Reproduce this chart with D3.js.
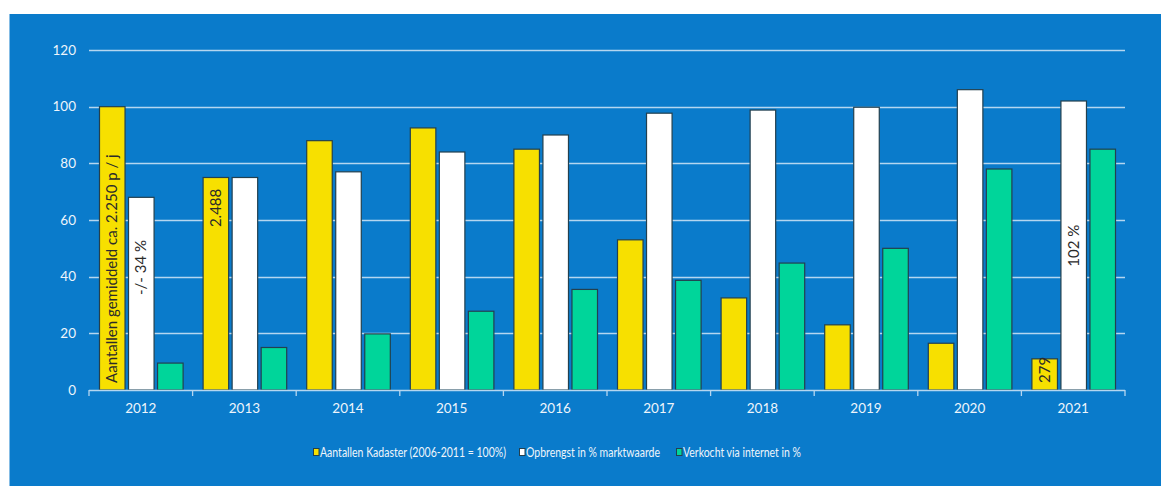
<!DOCTYPE html>
<html>
<head>
<meta charset="utf-8">
<script src="https://cdn.jsdelivr.net/npm/d3@7/dist/d3.min.js"></script>
<style>
  html, body { margin: 0; padding: 0; background: #ffffff; }
  svg { display: block; }
  text { font-family: Lato, "Open Sans", sans-serif; }
</style>
</head>
<body>
<svg id="chart" width="1161" height="486"></svg>
<script>
const years = ["2012","2013","2014","2015","2016","2017","2018","2019","2020","2021"];
const aantallen = [100, 75, 88, 92.5, 85, 53, 32.5, 23, 16.5, 11];
const opbrengst = [68, 75, 77, 84, 90, 97.7, 98.8, 99.8, 106, 102];
const internet  = [9.5, 15, 19.8, 27.8, 35.5, 38.7, 44.8, 50, 78, 85];
const yTicks = [0, 20, 40, 60, 80, 100, 120];
const seriesNames = ["Aantallen Kadaster (2006-2011 = 100%)", "Opbrengst in % marktwaarde", "Verkocht via internet in %"];
const seriesColors = ["#f7e000", "#ffffff", "#00d59a"];
const annotations = [
  { year: "2012", series: 0, text: "Aantallen gemiddeld ca. 2.250 p / j", value: 2.5 },
  { year: "2012", series: 1, text: "-/- 34 %", value: 33.5 },
  { year: "2013", series: 0, text: "2.488", value: 57.5 },
  { year: "2021", series: 1, text: "102 %", value: 43.5 },
  { year: "2021", series: 0, text: "279", value: 2.5 }
];

const svg = d3.select("#chart");
svg.append("rect").attr("x", 9.5).attr("y", 14).attr("width", 1152).attr("height", 472).attr("fill", "#0a7bcb");

const mLeft = 89, mRight = 1125, mTop = 50, mBottom = 390;
const x = d3.scaleBand().domain(years).range([mLeft, mRight]).paddingInner(0).paddingOuter(0);
const inner = d3.scaleBand().domain([0,1,2]).range([10, x.bandwidth() - 10]).paddingInner(0.12).paddingOuter(0);
const y = d3.scaleLinear().domain([0, 120]).range([mBottom, mTop]);

// gridlines
svg.append("g").selectAll("line").data(yTicks.filter(d => d > 0)).join("line")
  .attr("x1", mLeft).attr("x2", mRight)
  .attr("y1", d => Math.round(y(d)) + 0.5).attr("y2", d => Math.round(y(d)) + 0.5)
  .attr("stroke", "#b5d6f0").attr("stroke-width", 1.3);

// y axis labels
const yAxis = d3.axisLeft(y).tickValues(yTicks).tickSize(0).tickPadding(13);
const gy = svg.append("g").attr("transform", `translate(${mLeft},0)`).call(yAxis);
gy.select(".domain").remove();
gy.selectAll("text").attr("fill", "#eef5fb").attr("font-size", 13.5).attr("font-family", "Lato, sans-serif");

// bars
const series = [aantallen, opbrengst, internet];
const groups = svg.append("g").selectAll("g").data(years).join("g")
  .attr("transform", d => `translate(${x(d)},0)`);
groups.selectAll("rect").data((d, i) => series.map((s, k) => ({k, v: s[i]}))).join("rect")
  .attr("x", d => inner(d.k) + 0.5)
  .attr("y", d => y(d.v))
  .attr("width", inner.bandwidth())
  .attr("height", d => y(0) - y(d.v))
  .attr("fill", d => seriesColors[d.k])
  .attr("stroke", "#23404f").attr("stroke-width", 1.2);

// x axis
const xAxisLine = svg.append("g").attr("transform", `translate(0,${mBottom})`);
xAxisLine.append("line").attr("x1", mLeft).attr("x2", mRight).attr("y1", 0.5).attr("y2", 0.5)
  .attr("stroke", "#b5d6f0").attr("stroke-width", 1.5);
const boundaries = years.map(d => x(d)).concat([mRight]);
xAxisLine.selectAll("line.tick").data(boundaries).join("line").attr("class", "tick")
  .attr("x1", d => d).attr("x2", d => d).attr("y1", 0).attr("y2", 6)
  .attr("stroke", "#b5d6f0").attr("stroke-width", 1.3);
xAxisLine.selectAll("text").data(years).join("text")
  .attr("x", d => x(d) + x.bandwidth() / 2).attr("y", 23)
  .attr("text-anchor", "middle").attr("fill", "#eef5fb").attr("font-size", 13.5)
  .text(d => d);

// annotations
svg.append("g").selectAll("text").data(annotations).join("text")
  .attr("transform", d => `translate(${x(d.year) + inner(d.series) + inner.bandwidth()/2 + 0.5 + 5},${y(d.value)}) rotate(-90)`)
  .attr("fill", "#2b2b2b").attr("font-size", 15)
  .text(d => d.text);

// legend
const legendItems = [
  {name: seriesNames[0], color: seriesColors[0], x: 313, w: 186},
  {name: seriesNames[1], color: seriesColors[1], x: 519, w: 134},
  {name: seriesNames[2], color: seriesColors[2], x: 676, w: 118}
];
const lg = svg.append("g").selectAll("g").data(legendItems).join("g")
  .attr("transform", d => `translate(${d.x},452)`);
lg.append("rect").attr("x", 0.5).attr("y", -3.5).attr("width", 5.5).attr("height", 7)
  .attr("fill", d => d.color).attr("stroke", "#23404f").attr("stroke-width", 1);
lg.append("text").attr("x", 7).attr("y", 4.5).attr("fill", "#eef5fb").attr("font-size", 12.5)
  .attr("textLength", d => d.w).attr("lengthAdjust", "spacingAndGlyphs")
  .text(d => d.name);
</script>
</body>
</html>
